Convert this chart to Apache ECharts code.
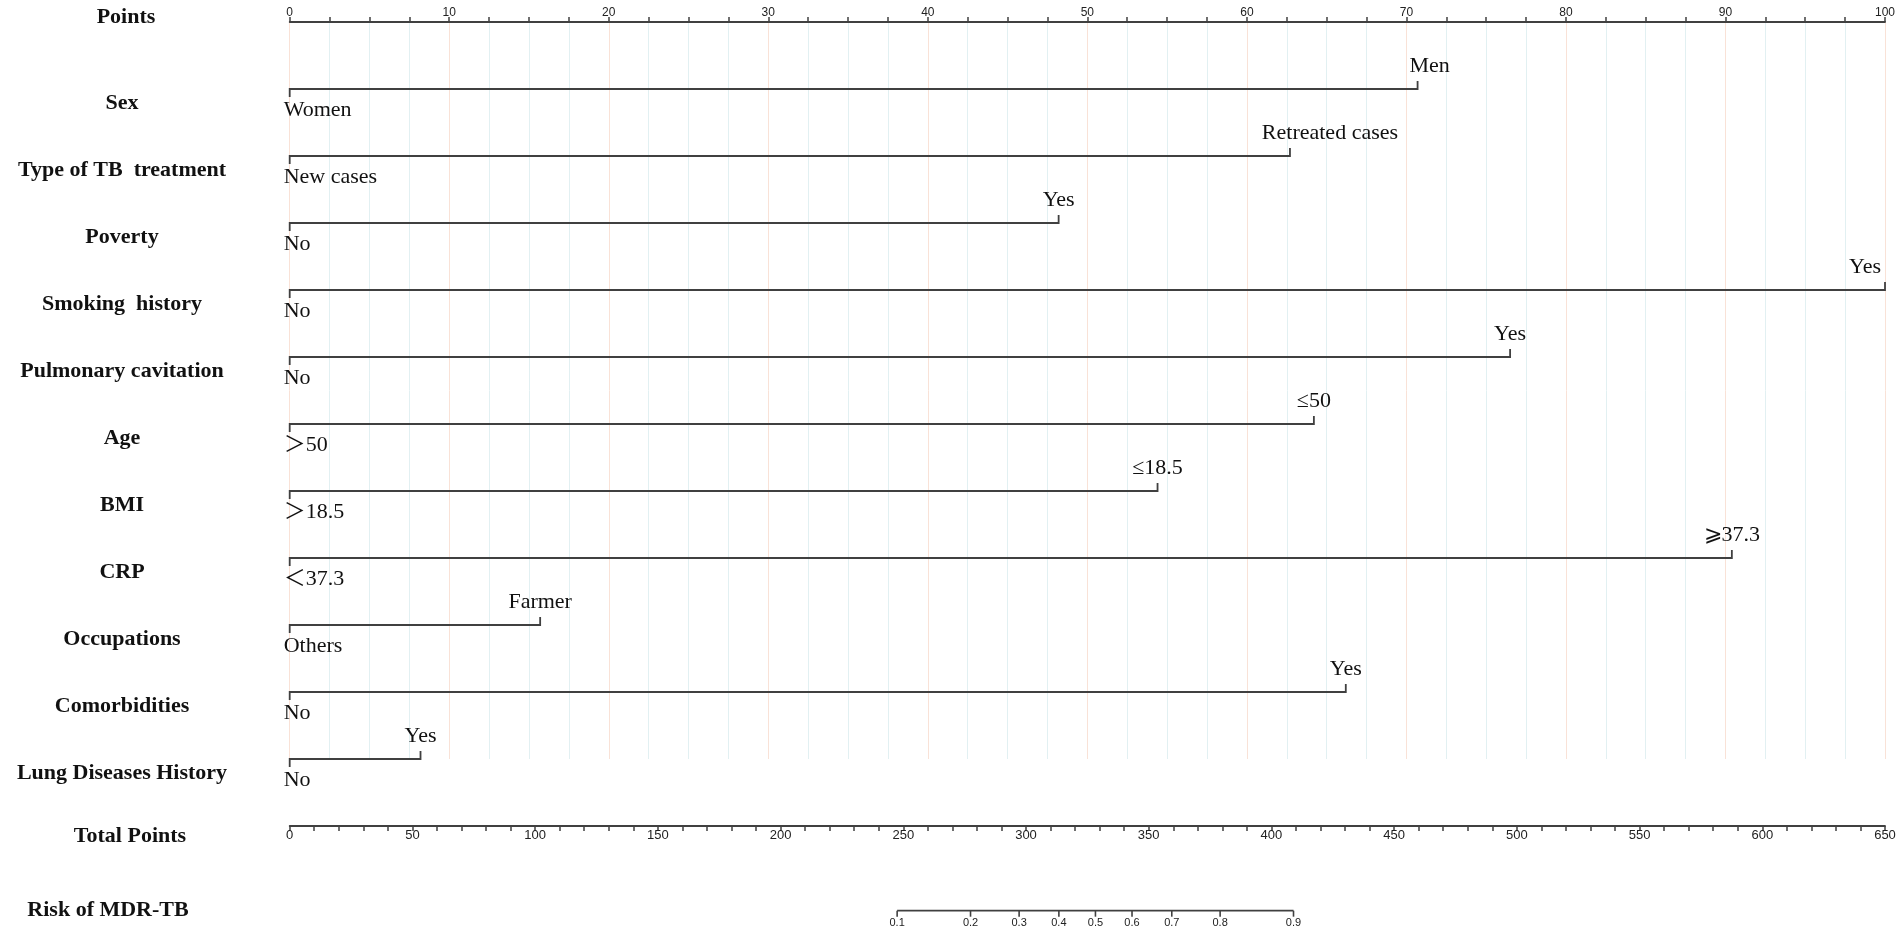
<!DOCTYPE html>
<html><head><meta charset="utf-8">
<script src="https://cdn.jsdelivr.net/npm/echarts@6/dist/echarts.min.js"></script>
<style>html,body{margin:0;padding:0;background:#fff}#c{width:1902px;height:933px}</style>
</head><body><div id="c"></div>
<script>
// ---------- data ----------
const variableNames = ['Sex', 'Type of TB  treatment', 'Poverty', 'Smoking  history', 'Pulmonary cavitation', 'Age', 'BMI', 'CRP', 'Occupations', 'Comorbidities', 'Lung Diseases History'];
const lowLevelLabels = ['Women', 'New cases', 'No', 'No', 'No', '＞50', '＞18.5', '＜37.3', 'Others', 'No', 'No'];
const highLevelLabels = ['Men', 'Retreated cases', 'Yes', 'Yes', 'Yes', '≤50', '≤18.5', '⩾37.3', 'Farmer', 'Yes', 'Yes'];
const highLevelPoints = [70.7, 62.7, 48.2, 100, 76.5, 64.2, 54.4, 90.4, 15.7, 66.2, 8.2];
const pointsRange = [0, 100];
const totalPointsRange = [0, 650];
const riskProbabilities = [0.1, 0.2, 0.3, 0.4, 0.5, 0.6, 0.7, 0.8, 0.9];
const riskTotalPoints = [247.5, 277.4, 297.2, 313.4, 328.3, 343.2, 359.4, 379.1, 409.0];
const axisTitles = ['Points', 'Total Points', 'Risk of MDR-TB'];

// ---------- layout / style ----------
const L = 289.7, R = 17;
const NAME_X = 122;
const INK = '#404040';
const SERIF = '"Liberation Serif","Times New Roman","DejaVu Serif","Noto Sans CJK SC",serif';
const SANS = '"Liberation Sans",Arial,sans-serif';
const highLabelShift = { 0: 12, 1: 40 };
const titleOffsets = [[4, -5], [8, 10], [-14, 0]];

const chart = echarts.init(document.getElementById('c'), null, { renderer: 'canvas' });

const rowData = variableNames.map((n, i) => [i + 1, highLevelPoints[i], i]);

function renderRow(params, api) {
  const row = api.value(0), v = api.value(1), i = api.value(2);
  const p0 = api.coord([0, row]);
  const p1 = api.coord([v, row]);
  const atEnd = v >= pointsRange[1];
  const children = [
    { type: 'polyline', shape: { points: [[p0[0], p0[1] + 8], [p0[0], p0[1]], [p1[0], p1[1]], [p1[0], p1[1] - 8]] },
      style: { stroke: INK, lineWidth: 1.8, fill: null } },
    { type: 'text', x: p0[0] - 6, y: p0[1] + 21,
      style: { text: lowLevelLabels[i], font: '22px ' + SERIF, fill: '#111', textAlign: 'left', textVerticalAlign: 'middle' } },
    { type: 'text', x: atEnd ? p1[0] - 4 : p1[0] + (highLabelShift[i] || 0), y: p1[1] - 23,
      style: { text: highLevelLabels[i], font: '22px ' + SERIF, fill: '#111', textAlign: atEnd ? 'right' : 'center', textVerticalAlign: 'middle' } },
    { type: 'text', x: NAME_X, y: p0[1] + 14,
      style: { text: variableNames[i], font: 'bold 22px ' + SERIF, fill: '#111', textAlign: 'center', textVerticalAlign: 'middle' } }
  ];
  return { type: 'group', children };
}

function renderRisk(params, api) {
  const x = api.value(0), p = api.value(2);
  const c = api.coord([x, 0]);
  return { type: 'group', children: [
    { type: 'line', shape: { x1: c[0], y1: c[1], x2: c[0], y2: c[1] + 6 }, style: { stroke: INK, lineWidth: 1.6 } },
    { type: 'text', x: c[0], y: c[1] + 12, style: { text: String(p), font: '11px ' + SANS, fill: '#222', textAlign: 'center', textVerticalAlign: 'middle' } }
  ]};
}

function renderTitle(params, api) {
  const idx = api.value(0);
  const c = api.coord([0, 0]);
  const off = titleOffsets[idx];
  return { type: 'text', x: NAME_X + off[0], y: c[1] + off[1],
    style: { text: axisTitles[idx], font: 'bold 22px ' + SERIF, fill: '#111', textAlign: 'center', textVerticalAlign: 'middle' } };
}

const option = {
  animation: false,
  backgroundColor: '#fff',
  grid: [
    { left: L, right: R, top: 22, bottom: 933 - 759 },
    { left: L, right: R, top: 700, bottom: 933 - 826 },
    { left: L, right: R, top: 880, bottom: 933 - 910.7 }
  ],
  xAxis: [
    { gridIndex: 0, type: 'value', position: 'top', min: pointsRange[0], max: pointsRange[1], interval: 2.5,
      axisLine: { show: true, lineStyle: { color: INK, width: 1.8 } },
      axisTick: { show: true, length: 5, lineStyle: { color: INK, width: 1.5 } },
      axisLabel: { interval: 0, margin: 3, fontSize: 12, fontFamily: SANS, color: '#222',
        formatter: v => (Math.abs(v % 10) < 1e-9 ? String(v) : '') },
      splitLine: { show: true, lineStyle: { color: ['#f9e2d7', '#e2f0f2', '#e2f0f2', '#e2f0f2'], width: 1 } } },
    { gridIndex: 1, type: 'value', position: 'bottom', min: totalPointsRange[0], max: totalPointsRange[1], interval: 10,
      axisLine: { show: true, onZero: false, lineStyle: { color: INK, width: 1.8 } },
      axisTick: { show: true, length: 5, lineStyle: { color: INK, width: 1.5 } },
      axisLabel: { interval: 0, margin: 3, fontSize: 13, fontFamily: SANS, color: '#222',
        formatter: v => (v % 50 === 0 ? String(v) : '') },
      splitLine: { show: false } },
    { gridIndex: 2, type: 'value', min: totalPointsRange[0], max: totalPointsRange[1], show: false }
  ],
  yAxis: [
    { gridIndex: 0, type: 'value', min: 0, max: variableNames.length, inverse: true, show: false },
    { gridIndex: 1, type: 'value', min: 0, max: 1, show: false },
    { gridIndex: 2, type: 'value', min: 0, max: 1, show: false }
  ],
  series: [
    { type: 'custom', xAxisIndex: 0, yAxisIndex: 0, data: rowData, renderItem: renderRow, clip: false, z: 5, silent: true },
    { type: 'custom', xAxisIndex: 0, yAxisIndex: 0, data: [[0, 0, 0]], renderItem: renderTitle, clip: false, silent: true },
    { type: 'custom', xAxisIndex: 1, yAxisIndex: 1, data: [[1, 0, 0]], renderItem: renderTitle, clip: false, silent: true },
    { type: 'custom', xAxisIndex: 2, yAxisIndex: 2, data: [[2, 0, 0]], renderItem: renderTitle, clip: false, silent: true },
    { type: 'line', xAxisIndex: 2, yAxisIndex: 2, clip: false, symbol: 'none', silent: true,
      data: [[riskTotalPoints[0], 0], [riskTotalPoints[riskTotalPoints.length - 1], 0]],
      lineStyle: { color: INK, width: 1.8 } },
    { type: 'custom', xAxisIndex: 2, yAxisIndex: 2, data: riskProbabilities.map((p, i) => [riskTotalPoints[i], 0, p]),
      renderItem: renderRisk, clip: false, silent: true }
  ]
};
chart.setOption(option);
</script>
</body></html>
